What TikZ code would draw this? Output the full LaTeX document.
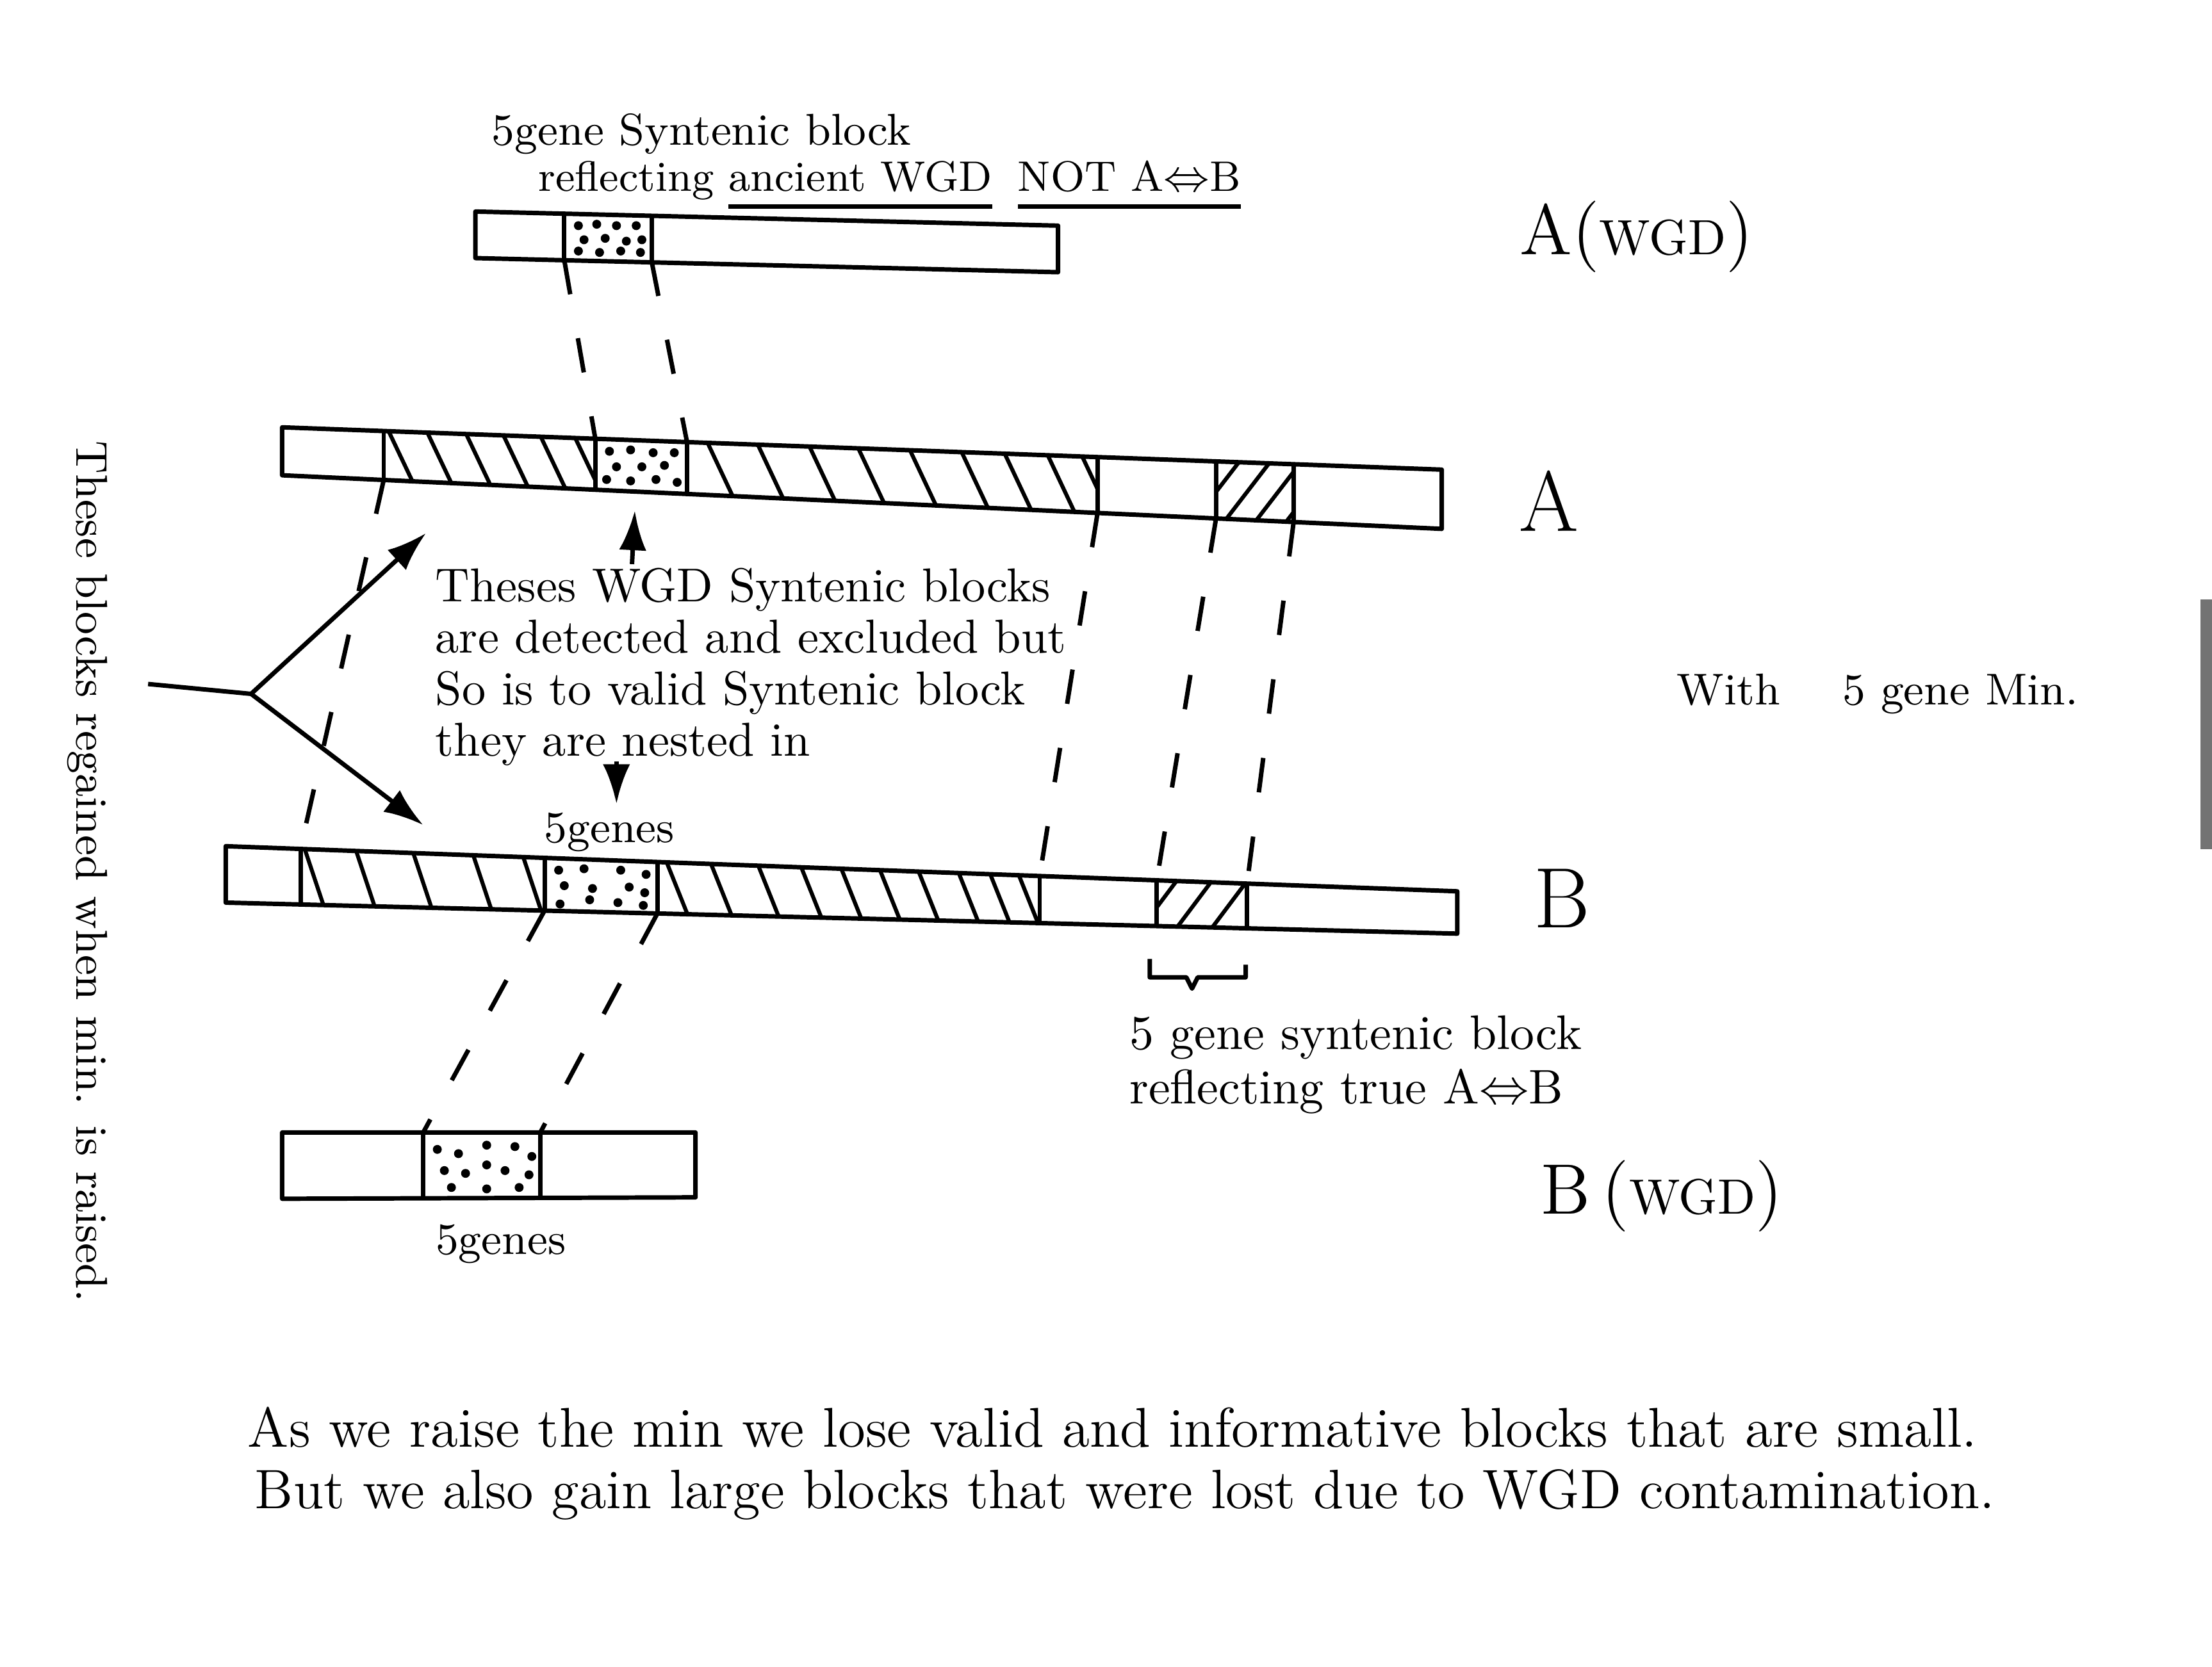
\documentclass[tikz,border=0pt]{standalone}
\usepackage{amsmath}
\usetikzlibrary{arrows.meta}

% thick hand-drawn style underline
\newcommand{\thickul}[1]{\setbox0\hbox{#1}\rlap{\rule[-3.5pt]{\wd0}{0.9pt}}\box0}

\tikzset{
    bar/.style={line width=0.9pt, line join=round},
    hatch/.style={line width=0.8pt},
    synline/.style={line width=0.9pt, dash pattern=on 7pt off 9pt},
    pointer/.style={line width=0.9pt, -{Latex[length=8pt,width=5.5pt]}},
    note/.style={align=left, inner sep=0pt},
    lbl/.style={font=\LARGE, inner sep=0pt},
}

\begin{document}
\begin{tikzpicture}[x=0.1mm, y=-0.1mm]
    \useasboundingbox (0,0) rectangle (1568,1182);
    \fill[black!55] (1560,425) rectangle (1568,602);

    % Chromosome A (WGD copy)
    \coordinate (awtl) at (337,150);   \coordinate (awtr) at (750,160);
    \coordinate (awbr) at (750,193);   \coordinate (awbl) at (337,183);
    \coordinate (aw1t) at (400,151.5); \coordinate (aw1b) at (400,184.4);
    \coordinate (aw2t) at (462,153);   \coordinate (aw2b) at (462,185.7);
    \draw[bar] (awtl) -- (awtr) -- (awbr) -- (awbl) -- cycle;
    \draw[bar] (aw1t) -- (aw1b) (aw2t) -- (aw2b);
    \foreach \p in {(410,160),(423,159),(437,160),(451,160),(414,170),(429,169),(444,171),(455,170),(410,178),(425,179),(440,178),(454,179)}
        \fill \p circle (0.9pt);

    % Chromosome A
    \coordinate (atl) at (200,303);    \coordinate (atr) at (1022,333);
    \coordinate (abr) at (1022,375);   \coordinate (abl) at (200,337);
    \coordinate (a1t) at (272,305.6);  \coordinate (a1b) at (272,340.3);
    \coordinate (a2t) at (422,311.1);  \coordinate (a2b) at (422,347.3);
    \coordinate (a3t) at (487,313.5);  \coordinate (a3b) at (487,350.3);
    \coordinate (a4t) at (778,324.1);  \coordinate (a4b) at (778,363.7);
    \coordinate (a5t) at (862,327.2);  \coordinate (a5b) at (862,367.6);
    \coordinate (a6t) at (917,329.2);  \coordinate (a6b) at (917,370.1);
    \begin{scope}
        \clip (a1t) -- (a2t) -- (a2b) -- (a1b) -- cycle;
        \foreach \x in {268,295,322,348,374,398}
            \draw[hatch] (\x,290) -- ({\x+38},370);
    \end{scope}
    \begin{scope}
        \clip (a3t) -- (a4t) -- (a4b) -- (a3b) -- cycle;
        \foreach \x in {495,530,566,600,636,672,702,732,756}
            \draw[hatch] (\x,300) -- ({\x+40},385);
    \end{scope}
    \begin{scope}
        \clip (a5t) -- (a6t) -- (a6b) -- (a5b) -- cycle;
        \foreach \x in {838,860,882,904}
            \draw[hatch] (\x,380) -- ({\x+50},315);
    \end{scope}
    \draw[bar] (atl) -- (atr) -- (abr) -- (abl) -- cycle;
    \foreach \i in {1,...,6}
        \draw[bar] (a\i t) -- (a\i b);
    \foreach \p in {(432,320),(447,319),(463,321),(478,321),(437,331),(455,331),(471,330),(430,340),(447,341),(465,340),(480,342)}
        \fill \p circle (0.9pt);

    % Chromosome B
    \coordinate (btl) at (160,600);    \coordinate (btr) at (1033,632);
    \coordinate (bbr) at (1033,662);   \coordinate (bbl) at (160,640);
    \coordinate (b1t) at (213,601.9);  \coordinate (b1b) at (213,641.3);
    \coordinate (b2t) at (386,608.3);  \coordinate (b2b) at (386,645.7);
    \coordinate (b3t) at (466,611.2);  \coordinate (b3b) at (466,647.7);
    \coordinate (b4t) at (737,621.2);  \coordinate (b4b) at (737,654.5);
    \coordinate (b5t) at (820,624.2);  \coordinate (b5b) at (820,656.6);
    \coordinate (b6t) at (884,626.6);  \coordinate (b6b) at (884,658.2);
    \begin{scope}
        \clip (b1t) -- (b2t) -- (b2b) -- (b1b) -- cycle;
        \foreach \x in {212,248,288,330,365}
            \draw[hatch] (\x,590) -- ({\x+25},665);
    \end{scope}
    \begin{scope}
        \clip (b3t) -- (b4t) -- (b4b) -- (b3b) -- cycle;
        \foreach \x in {466,497,530,560,588,615,642,670,692,712}
            \draw[hatch] (\x,595) -- ({\x+30},670);
    \end{scope}
    \begin{scope}
        \clip (b5t) -- (b6t) -- (b6b) -- (b5b) -- cycle;
        \foreach \x in {800,825,850,875}
            \draw[hatch] (\x,670) -- ({\x+45},610);
    \end{scope}
    \draw[bar] (btl) -- (btr) -- (bbr) -- (bbl) -- cycle;
    \foreach \i in {1,...,6}
        \draw[bar] (b\i t) -- (b\i b);
    \foreach \p in {(396,617),(414,616),(440,617),(458,620),(400,628),(420,630),(446,629),(457,633),(397,641),(418,638),(438,640),(456,642)}
        \fill \p circle (0.9pt);

    % Chromosome B (WGD copy)
    \coordinate (bwtl) at (200,803);   \coordinate (bwtr) at (493,803);
    \coordinate (bwbr) at (493,849);   \coordinate (bwbl) at (200,850);
    \coordinate (bw1t) at (300,803);   \coordinate (bw1b) at (300,850);
    \coordinate (bw2t) at (383,803);   \coordinate (bw2b) at (383,849);
    \draw[bar] (bwtl) -- (bwtr) -- (bwbr) -- (bwbl) -- cycle;
    \draw[bar] (bw1t) -- (bw1b) (bw2t) -- (bw2b);
    \foreach \p in {(310,815),(325,818),(345,812),(365,813),(377,820),(345,826),(315,830),(330,832),(358,830),(375,833),(320,842),(345,843),(368,842)}
        \fill \p circle (0.9pt);

    % syntenic correspondences
    \draw[synline] (aw1b) -- (a2t);
    \draw[synline] (aw2b) -- (a3t);
    \draw[synline] (a1b) -- (b1t);
    \draw[synline] (a4b) -- (b4t);
    \draw[synline] (a5b) -- (b5t);
    \draw[synline] (a6b) -- (b6t);
    \draw[synline] (b2b) -- (bw1t);
    \draw[synline] (b3b) -- (bw2t);

    % brace under the true block
    \draw[bar] (815,680) -- (815,693) -- (841,693) -- (845,701) -- (849,693) -- (883,693) -- (883,684);

    % labels
    \node[note, anchor=north west, font=\fontsize{9}{9.3}\selectfont] (title) at (348,80) {5gene Syntenic block\\ \hspace{3.3mm}{\fontsize{8.6}{9.3}\selectfont reflecting \thickul{ancient WGD}\hspace{1.8mm}\thickul{NOT A$\Leftrightarrow$B}}};
    \node[lbl, font=\Large] (lblAw) at (1160,168) {A({\normalsize WGD})};
    \node[lbl] (lblA) at (1098,355) {A};
    \node[lbl] (lblB) at (1107,637) {B};
    \node[lbl, font=\Large] (lblBw) at (1178,848) {B\,({\normalsize WGD})};
    \node[note, anchor=north west, font=\fontsize{9.6}{10.4}\selectfont] (expl) at (308,402) {Theses WGD Syntenic blocks\\ are detected and excluded but\\ So is to valid Syntenic block\\ they are nested in};
    \node[font=\small] (genesB) at (432,590) {5genes};
    \node[font=\small] (genesBw) at (355,882) {5genes};
    \node[note, anchor=west, font=\fontsize{9.8}{11}\selectfont] (truesyn) at (800,755) {5 gene syntenic block\\ reflecting true A$\Leftrightarrow$B};
    \node[anchor=west, inner sep=0pt, font=\small] (minnote) at (1188,492) {With\hspace{1.4em}5 gene Min.};
    \node[rotate=-90, font=\small] (regain) at (62,618) {These blocks regained when min. is raised.};
    \node[anchor=west, inner sep=0pt, font=\fontsize{11.3}{13}\selectfont] (lose) at (175,1012) {As we raise the min we lose valid and informative blocks that are small.};
    \node[anchor=west, inner sep=0pt, font=\fontsize{11.2}{13}\selectfont] (gain) at (180,1060) {But we also gain large blocks that were lost due to WGD contamination.};

    % pointers
    \coordinate (root) at (105,485);
    \coordinate (fork) at (178,492);
    \coordinate (tipA) at (302,378);
    \coordinate (tipB) at (300,585);
    \coordinate (upfoot) at (448,400);
    \coordinate (uptip) at (450,362);
    \coordinate (dnfoot) at (437,540);
    \coordinate (dntip) at (437,570);
    \draw[bar] (root) -- (fork);
    \draw[pointer] (fork) -- (tipA);
    \draw[pointer] (fork) -- (tipB);
    \draw[pointer] (upfoot) -- (uptip);
    \draw[pointer] (dnfoot) -- (dntip);
\end{tikzpicture}
\end{document}
